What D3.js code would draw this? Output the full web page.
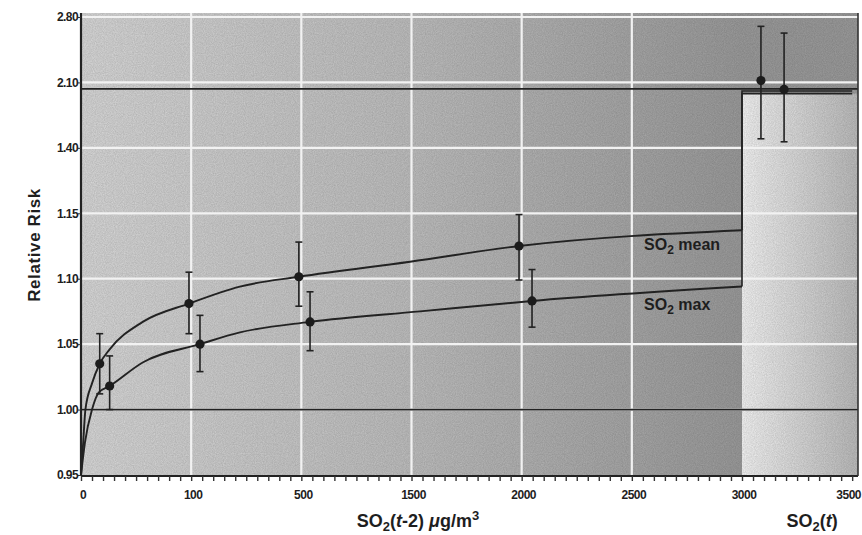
<!DOCTYPE html>
<html>
<head>
<meta charset="utf-8">
<script src="https://cdn.jsdelivr.net/npm/d3@7"></script>
<style>
  body { margin: 0; background: #fff; }
  svg text { font-family: "Liberation Sans Narrow", "Liberation Sans", Arial, sans-serif; font-weight: bold; fill: #1e1e1e; }
</style>
</head>
<body>
<div id="chart"></div>
<script>
// tick labels (the axes are broken, labels sit at equal steps)
const yTicks = [0.95, 1.00, 1.05, 1.10, 1.15, 1.40, 2.10, 2.80];
const xTicks = [0, 100, 500, 1500, 2000, 2500, 3000, 3500];

// estimates with 95% CI
const meanX = [17, 98, 491, 1988, 3086];
const meanRR = [1.035, 1.081, 1.1015, 1.125, 2.12];
const meanLo = [1.012, 1.058, 1.079, 1.099, 1.497];
const meanHi = [1.058, 1.105, 1.128, 1.149, 2.70];

const maxX = [26, 132, 579, 2047, 3191];
const maxRR = [1.018, 1.05, 1.067, 1.083, 2.025];
const maxLo = [1.00, 1.029, 1.045, 1.063, 1.465];
const maxHi = [1.041, 1.072, 1.090, 1.107, 2.628];

// fitted curves for SO2(t-2)
const meanCurveX = [0, 2, 4, 10, 17, 26, 56, 98, 277, 491, 1487, 1988, 3000];
const meanCurveY = [0.95, 0.975, 1.0, 1.02, 1.035, 1.046, 1.067, 1.081, 1.094, 1.1015, 1.113, 1.125, 1.137];
const maxCurveX = [0, 3.6, 10, 16, 26, 56, 132, 277, 579, 1539, 2047, 3000];
const maxCurveY = [0.95, 0.975, 1.0, 1.013, 1.018, 1.036, 1.05, 1.059, 1.067, 1.075, 1.083, 1.094];

// levels for SO2(t) and reference lines
const meanStep = 2.008;
const maxStep = 1.98;
const refLines = [1.00, 2.03];

const W = 862, H = 535;
const pLeft = 81, pRight = 858, pTop = 13, pBottom = 476;
const xBreak = 3000;

const svg = d3.select("#chart").append("svg")
    .attr("width", W)
    .attr("height", H);

const x = d3.scaleLinear()
    .domain(xTicks)
    .range(xTicks.map((d, i) => pLeft + i * (742 - pLeft) / 6));

const y = d3.scaleLinear()
    .domain(yTicks)
    .range(yTicks.map((d, i) => 475 - i * (475 - 17) / (yTicks.length - 1)));

const defs = svg.append("defs");

const g1 = defs.append("linearGradient").attr("id", "bgLeft");
g1.append("stop").attr("offset", "0%").attr("stop-color", "#dadada");
g1.append("stop").attr("offset", "50%").attr("stop-color", "#c0c0c0");
g1.append("stop").attr("offset", "100%").attr("stop-color", "#9c9c9c");

const g2 = defs.append("linearGradient").attr("id", "bgRight");
g2.append("stop").attr("offset", "0%").attr("stop-color", "#f6f6f6");
g2.append("stop").attr("offset", "100%").attr("stop-color", "#bdbdbd");

// grain like a scan
const f = defs.append("filter").attr("id", "grain");
f.append("feTurbulence").attr("type", "fractalNoise").attr("baseFrequency", 0.9).attr("numOctaves", 2).attr("result", "n");
f.append("feColorMatrix").attr("type", "matrix")
    .attr("values", "0 0 0 0 0  0 0 0 0 0  0 0 0 0 0  0 0 0 0.18 0");
f.append("feComposite").attr("in2", "SourceGraphic").attr("operator", "in");

// backgrounds
svg.append("rect")
    .attr("x", pLeft).attr("y", pTop)
    .attr("width", x(xBreak) - pLeft).attr("height", pBottom - pTop)
    .attr("fill", "url(#bgLeft)");
svg.append("rect")
    .attr("x", x(xBreak)).attr("y", pTop)
    .attr("width", pRight - x(xBreak)).attr("height", pBottom - pTop)
    .attr("fill", "url(#bgRight)");
svg.append("rect")
    .attr("x", x(xBreak)).attr("y", pTop)
    .attr("width", pRight - x(xBreak)).attr("height", y(maxStep) - pTop)
    .attr("fill", "#9c9c9c");
svg.append("rect")
    .attr("x", pLeft).attr("y", pTop)
    .attr("width", pRight - pLeft).attr("height", pBottom - pTop)
    .attr("fill", "#fff")
    .attr("filter", "url(#grain)");

// white grid
svg.append("g").selectAll("line")
    .data(xTicks.slice(1, 6))
    .enter().append("line")
    .attr("x1", d => x(d)).attr("x2", d => x(d))
    .attr("y1", pTop).attr("y2", pBottom)
    .attr("stroke", "#f2f2f2").attr("stroke-width", 2.2);

svg.append("g").selectAll("line")
    .data(yTicks.slice(1))
    .enter().append("line")
    .attr("x1", pLeft).attr("x2", pRight)
    .attr("y1", d => y(d)).attr("y2", d => y(d))
    .attr("stroke", "#f2f2f2").attr("stroke-width", 2.2);

// reference lines
svg.append("g").selectAll("line")
    .data(refLines)
    .enter().append("line")
    .attr("x1", pLeft).attr("x2", pRight)
    .attr("y1", d => y(d)).attr("y2", d => y(d))
    .attr("stroke", "#222").attr("stroke-width", 1.8);

// curves
const line = d3.line()
    .x(d => x(d[0]))
    .y(d => y(d[1]))
    .curve(d3.curveMonotoneX);

const stepLine = d3.line()
    .x(d => x(d[0]))
    .y(d => y(d[1]));

function drawSeries(cx, cy, level) {
    svg.append("path")
        .datum(cx.map((d, i) => [d, cy[i]]))
        .attr("d", line)
        .attr("fill", "none")
        .attr("stroke", "#222")
        .attr("stroke-width", 1.9);
    svg.append("path")
        .datum([[xBreak, cy[cy.length - 1]], [xBreak, level], [3500, level]])
        .attr("d", stepLine)
        .attr("fill", "none")
        .attr("stroke", "#222")
        .attr("stroke-width", 1.6);
}
drawSeries(meanCurveX, meanCurveY, meanStep);
drawSeries(maxCurveX, maxCurveY, maxStep);

// error bars and points
function drawPoints(px, pr, lo, hi) {
    const gp = svg.append("g");
    px.forEach((d, i) => {
        gp.append("line")
            .attr("x1", x(d)).attr("x2", x(d))
            .attr("y1", y(lo[i])).attr("y2", y(hi[i]))
            .attr("stroke", "#222").attr("stroke-width", 1.6);
        [lo[i], hi[i]].forEach(v => {
            gp.append("line")
                .attr("x1", x(d) - 3.5).attr("x2", x(d) + 3.5)
                .attr("y1", y(v)).attr("y2", y(v))
                .attr("stroke", "#222").attr("stroke-width", 1.6);
        });
        gp.append("circle")
            .attr("cx", x(d)).attr("cy", y(pr[i]))
            .attr("r", 4.6)
            .attr("fill", "#1c1c1c");
    });
}
drawPoints(meanX, meanRR, meanLo, meanHi);
drawPoints(maxX, maxRR, maxLo, maxHi);

// axes
const minorTicks = [];
for (let i = 0; i < xTicks.length - 1; i++) {
    const a = xTicks[i], b = xTicks[i + 1];
    for (let k = 0; k < 10; k++) minorTicks.push(a + (b - a) * k / 10);
}
minorTicks.push(3500);

const xAxis = svg.append("g")
    .attr("transform", "translate(0," + pBottom + ")")
    .call(d3.axisBottom(x).tickValues(minorTicks).tickSize(5).tickFormat(""));
xAxis.select(".domain").attr("stroke", "#222").attr("stroke-width", 2)
    .attr("d", "M" + pLeft + ",0H" + pRight);
xAxis.selectAll(".tick line").attr("stroke", "#333").attr("stroke-width", 1.4);

svg.append("g").selectAll("text")
    .data(xTicks)
    .enter().append("text")
    .attr("x", d => d === 3500 ? 861 : x(d) + 2)
    .attr("y", 499)
    .attr("text-anchor", d => d === 3500 ? "end" : "middle")
    .attr("font-size", "12px")
    .attr("letter-spacing", "-0.5px")
    .text(d => d);

const yAxis = svg.append("g")
    .attr("transform", "translate(" + pLeft + ",0)")
    .call(d3.axisLeft(y).tickValues(yTicks).tickSize(3).tickFormat(d3.format(".2f")));
yAxis.select(".domain").attr("stroke", "#222").attr("stroke-width", 2.2)
    .attr("d", "M0," + pTop + "V" + pBottom);
yAxis.selectAll(".tick line").attr("stroke", "#333");
yAxis.selectAll(".tick text")
    .attr("font-size", "12px")
    .attr("letter-spacing", "-0.6px")
    .attr("x", -3)
    .attr("fill", "#1e1e1e");

svg.append("line")
    .attr("x1", pRight).attr("x2", pRight)
    .attr("y1", pTop).attr("y2", pBottom)
    .attr("stroke", "#333").attr("stroke-width", 1.6);

// axis titles
svg.append("text")
    .attr("transform", "translate(40,245) rotate(-90)")
    .attr("text-anchor", "middle")
    .attr("font-size", "17px")
    .attr("letter-spacing", "0.6px")
    .attr("font-family", "Liberation Sans, Arial, sans-serif")
    .text("Relative Risk");

const xt = svg.append("text")
    .attr("x", 418).attr("y", 527)
    .attr("text-anchor", "middle")
    .attr("font-size", "18px")
    .attr("font-family", "Liberation Sans, Arial, sans-serif");
xt.append("tspan").text("SO");
xt.append("tspan").attr("font-size", "13px").attr("dy", 4).text("2");
xt.append("tspan").attr("dy", -4).text("(");
xt.append("tspan").attr("font-style", "italic").text("t");
xt.append("tspan").text("-2) ");
xt.append("tspan").attr("font-style", "italic").text("μ");
xt.append("tspan").text("g/m");
xt.append("tspan").attr("font-size", "13px").attr("dy", -7).text("3");

const xt2 = svg.append("text")
    .attr("x", 812).attr("y", 527)
    .attr("text-anchor", "middle")
    .attr("font-size", "18px")
    .attr("font-family", "Liberation Sans, Arial, sans-serif");
xt2.append("tspan").text("SO");
xt2.append("tspan").attr("font-size", "13px").attr("dy", 4).text("2");
xt2.append("tspan").attr("dy", -4).text("(");
xt2.append("tspan").attr("font-style", "italic").text("t");
xt2.append("tspan").text(")");

// series labels
function seriesLabel(lx, ly, name) {
    const t = svg.append("text")
        .attr("x", lx).attr("y", ly)
        .attr("font-size", "16px")
        .attr("font-family", "Liberation Sans, Arial, sans-serif");
    t.append("tspan").text("SO");
    t.append("tspan").attr("font-size", "12px").attr("dy", 4).text("2");
    t.append("tspan").attr("dy", -4).text(" " + name);
}
seriesLabel(644, 250, "mean");
seriesLabel(644, 310, "max");
</script>
</body>
</html>
